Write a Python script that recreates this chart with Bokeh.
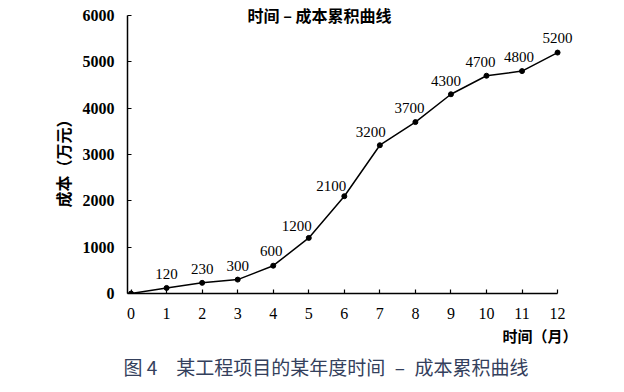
from bokeh.plotting import figure
from bokeh.models import ColumnDataSource, Label, FixedTicker, Range1d, Title
from bokeh.embed import file_html
from bokeh.resources import INLINE
from bokeh.core.properties import value

months = [0, 1, 2, 3, 4, 5, 6, 7, 8, 9, 10, 11, 12]
cost = [0, 120, 230, 300, 600, 1200, 2100, 3200, 3700, 4300, 4700, 4800, 5200]
point_labels = ["", "120", "230", "300", "600", "1200", "2100", "3200", "3700", "4300", "4700", "4800", "5200"]
x_ticks = list(range(0, 13))
y_ticks = [0, 1000, 2000, 3000, 4000, 5000, 6000]

title_text = "时间 – 成本累积曲线"
y_label_text = "成本（万元）"
x_label_text = "时间（月）"
caption_text = "图 4　某工程项目的某年度时间\u2002–\u2002成本累积曲线"

# label offsets (style only)
label_dx = [0, 0, 0, 0, -2, -12, -13, -9, -6, -5, -6, -3, 0]
label_dy = [-14, -14, -14, -14, -15, -12, -10, -13, -14, -13, -14, -14, -15]

src = ColumnDataSource(dict(x=months, y=cost, t=point_labels, dx=label_dx, dy=label_dy))

p = figure(width=608, height=384, output_backend="svg", toolbar_location=None,
           x_range=Range1d(-0.1, 12.87), y_range=Range1d(0, 6324),
           min_border_left=127, min_border_right=20, min_border_top=0, min_border_bottom=91)
p.outline_line_color = None
p.grid.visible = False
p.background_fill_color = "white"
p.border_fill_color = "white"

p.line("x", "y", source=src, line_color="black", line_width=1.5)
p.scatter("x", "y", source=src, size=5, color="black")
p.text("x", "y", text="t", source=src, x_offset="dx", y_offset="dy",
       text_align="center", text_baseline="middle",
       text_font=value("Liberation Serif"), text_font_size="15px", text_color="black")

for ax in (p.xaxis[0], p.yaxis[0]):
    ax.axis_line_color = "black"
    ax.axis_line_width = 1.5
    ax.major_tick_in = 4
    ax.major_tick_out = 0
    ax.major_tick_line_color = "black"
    ax.major_tick_line_width = 1.2
    ax.minor_tick_line_color = None
    ax.major_label_text_color = "black"
    ax.major_label_text_font = "Liberation Serif"

p.xaxis.bounds = (-0.1, 12)
p.yaxis.bounds = (0, 6000)
p.xaxis.ticker = FixedTicker(ticks=x_ticks)
p.yaxis.ticker = FixedTicker(ticks=y_ticks)
p.xaxis.major_label_text_font_size = "16px"
p.yaxis.major_label_text_font_size = "16px"
p.yaxis.major_label_text_font_style = "bold"
p.xaxis.major_label_standoff = 14
p.yaxis.major_label_standoff = 13

cjk = "Noto Sans CJK SC"
p.add_layout(Label(x=192, y=279, x_units="screen", y_units="screen", text=title_text,
                   text_font=cjk, text_font_size="16px", text_font_style="bold",
                   text_align="center", text_baseline="middle", text_color="black"))

p.add_layout(Title(text=y_label_text, align="left", offset=86, standoff=10,
                   text_font=cjk, text_font_size="16px", text_font_style="bold",
                   text_color="black"), "left")
p.add_layout(Title(text=x_label_text, align="right", offset=11, standoff=2,
                   text_font=cjk, text_font_size="15px", text_font_style="bold",
                   text_color="black"), "below")
p.add_layout(Title(text=caption_text, align="left", offset=-4, standoff=9,
                   text_font=cjk, text_font_size="19px", text_font_style="normal",
                   text_color="#34405c"), "below")

open("out.html", "w").write(file_html(p, INLINE))
